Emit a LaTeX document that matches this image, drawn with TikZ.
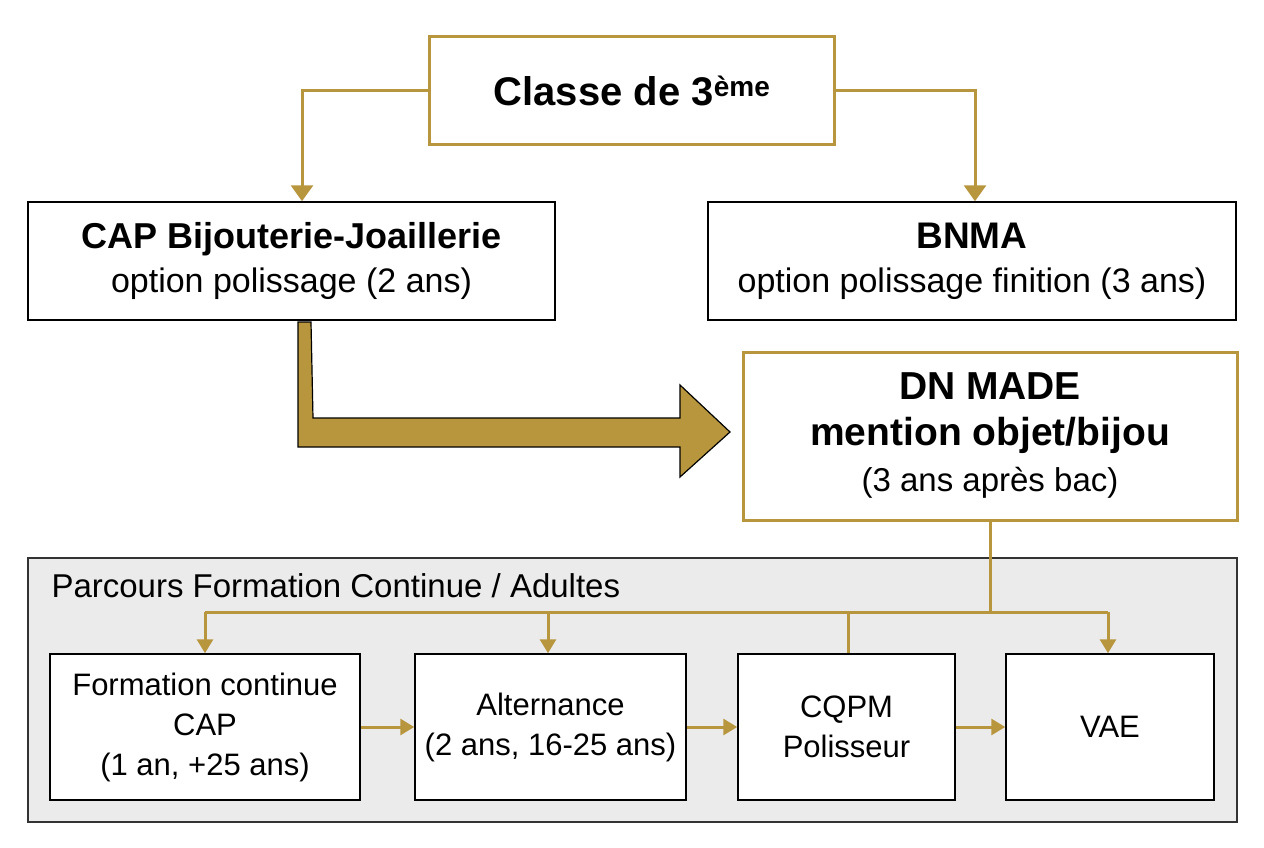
\documentclass[tikz,border=0pt]{standalone}
\usepackage{fontspec}
\setmainfont{Liberation Sans}
\usetikzlibrary{arrows.meta}
\definecolor{gold}{HTML}{B8963E}
\definecolor{panel}{HTML}{EBEBEB}
\begin{document}
\begin{tikzpicture}[x=1pt,y=-1pt,
 box/.style={draw=black,line width=1.5pt,fill=white,align=center,inner sep=0pt},
 goldbox/.style={draw=gold,line width=3pt,fill=white,align=center,inner sep=0pt},
 garrow/.style={draw=gold,line width=3pt,-{Triangle[length=16pt,width=22pt]}},
 gline/.style={draw=gold,line width=3pt},
 sarrow/.style={draw=gold,line width=3pt,-{Triangle[length=14pt,width=16pt]}}]
\useasboundingbox (0,0) rectangle (1264,848);
\fill[white] (0,0) rectangle (1264,848);
% panel
\node[draw=black!80,line width=1.2pt,fill=panel,minimum width=1209pt,minimum height=264pt,inner sep=0pt] (panel) at (632.5,690) {};
\node[anchor=west,font=\fontsize{33}{40}\selectfont] (ptitle) at (48,586) {Parcours Formation Continue / Adultes};
% top
\node[goldbox,minimum width=405pt,minimum height=108pt,font=\fontsize{40}{44}\selectfont\bfseries] (top) at (632,91) {Classe de 3\textsuperscript{ème}};
\node[box,minimum width=527pt,minimum height=118pt,font=\fontsize{34}{44}\selectfont] (cap) at (291.5,261) {{\bfseries\fontsize{36}{44}\selectfont CAP Bijouterie-Joaillerie}\\option polissage (2 ans)};
\node[box,minimum width=528pt,minimum height=118pt,font=\fontsize{34}{44}\selectfont] (bnma) at (972,261) {{\bfseries\fontsize{37}{44}\selectfont BNMA}\\option polissage finition (3 ans)};
\node[goldbox,minimum width=494pt,minimum height=168pt,font=\fontsize{33}{46}\selectfont] (dn) at (990,436) {{\bfseries\fontsize{39}{46}\selectfont DN MADE}\\{\bfseries\fontsize{39}{46}\selectfont mention objet/bijou}\\(3 ans après bac)};
\draw[garrow] (top.west) -- (302,91) -- (cap.north -| 302,0);
\draw[garrow] (top.east) -- (975,91) -- (bnma.north -| 975,0);
% big arrow
\draw[fill=gold,draw=black,line width=1.2pt] (298,322) -- (311,322) -- (313,418) -- (680,418) -- (680,385) -- (730,432) -- (680,477) -- (680,447) -- (298,447) -- cycle;
% bottom boxes
\tikzset{bfont/.style={font=\fontsize{31}{40}\selectfont}}
\node[box,bfont,minimum width=310pt,minimum height=146pt] (b1) at (205,727) {Formation continue\\CAP\\(1 an, +25 ans)};
\node[box,bfont,minimum width=271pt,minimum height=146pt] (b2) at (550.5,727) {Alternance\\(2 ans, 16-25 ans)};
\node[box,bfont,minimum width=217pt,minimum height=146pt] (b3) at (846.5,727) {CQPM\\Polisseur};
\node[box,bfont,minimum width=208pt,minimum height=146pt] (b4) at (1110,727) {VAE};
\coordinate (j) at (990,612);
\draw[gline] (dn.south) -- (j);
\draw[gline] (205,612) -- (1108,612);
\draw[sarrow] (205,612) -- (b1.north -| 205,0);
\draw[sarrow] (548,612) -- (b2.north -| 548,0);
\draw[gline] (848,612) -- (b3.north -| 848,0);
\draw[sarrow] (1108,612) -- (b4.north -| 1108,0);
\draw[sarrow] (b1.east) -- (b2.west);
\draw[sarrow] (b2.east) -- (b3.west);
\draw[sarrow] (b3.east) -- (b4.west);
\end{tikzpicture}
\end{document}
